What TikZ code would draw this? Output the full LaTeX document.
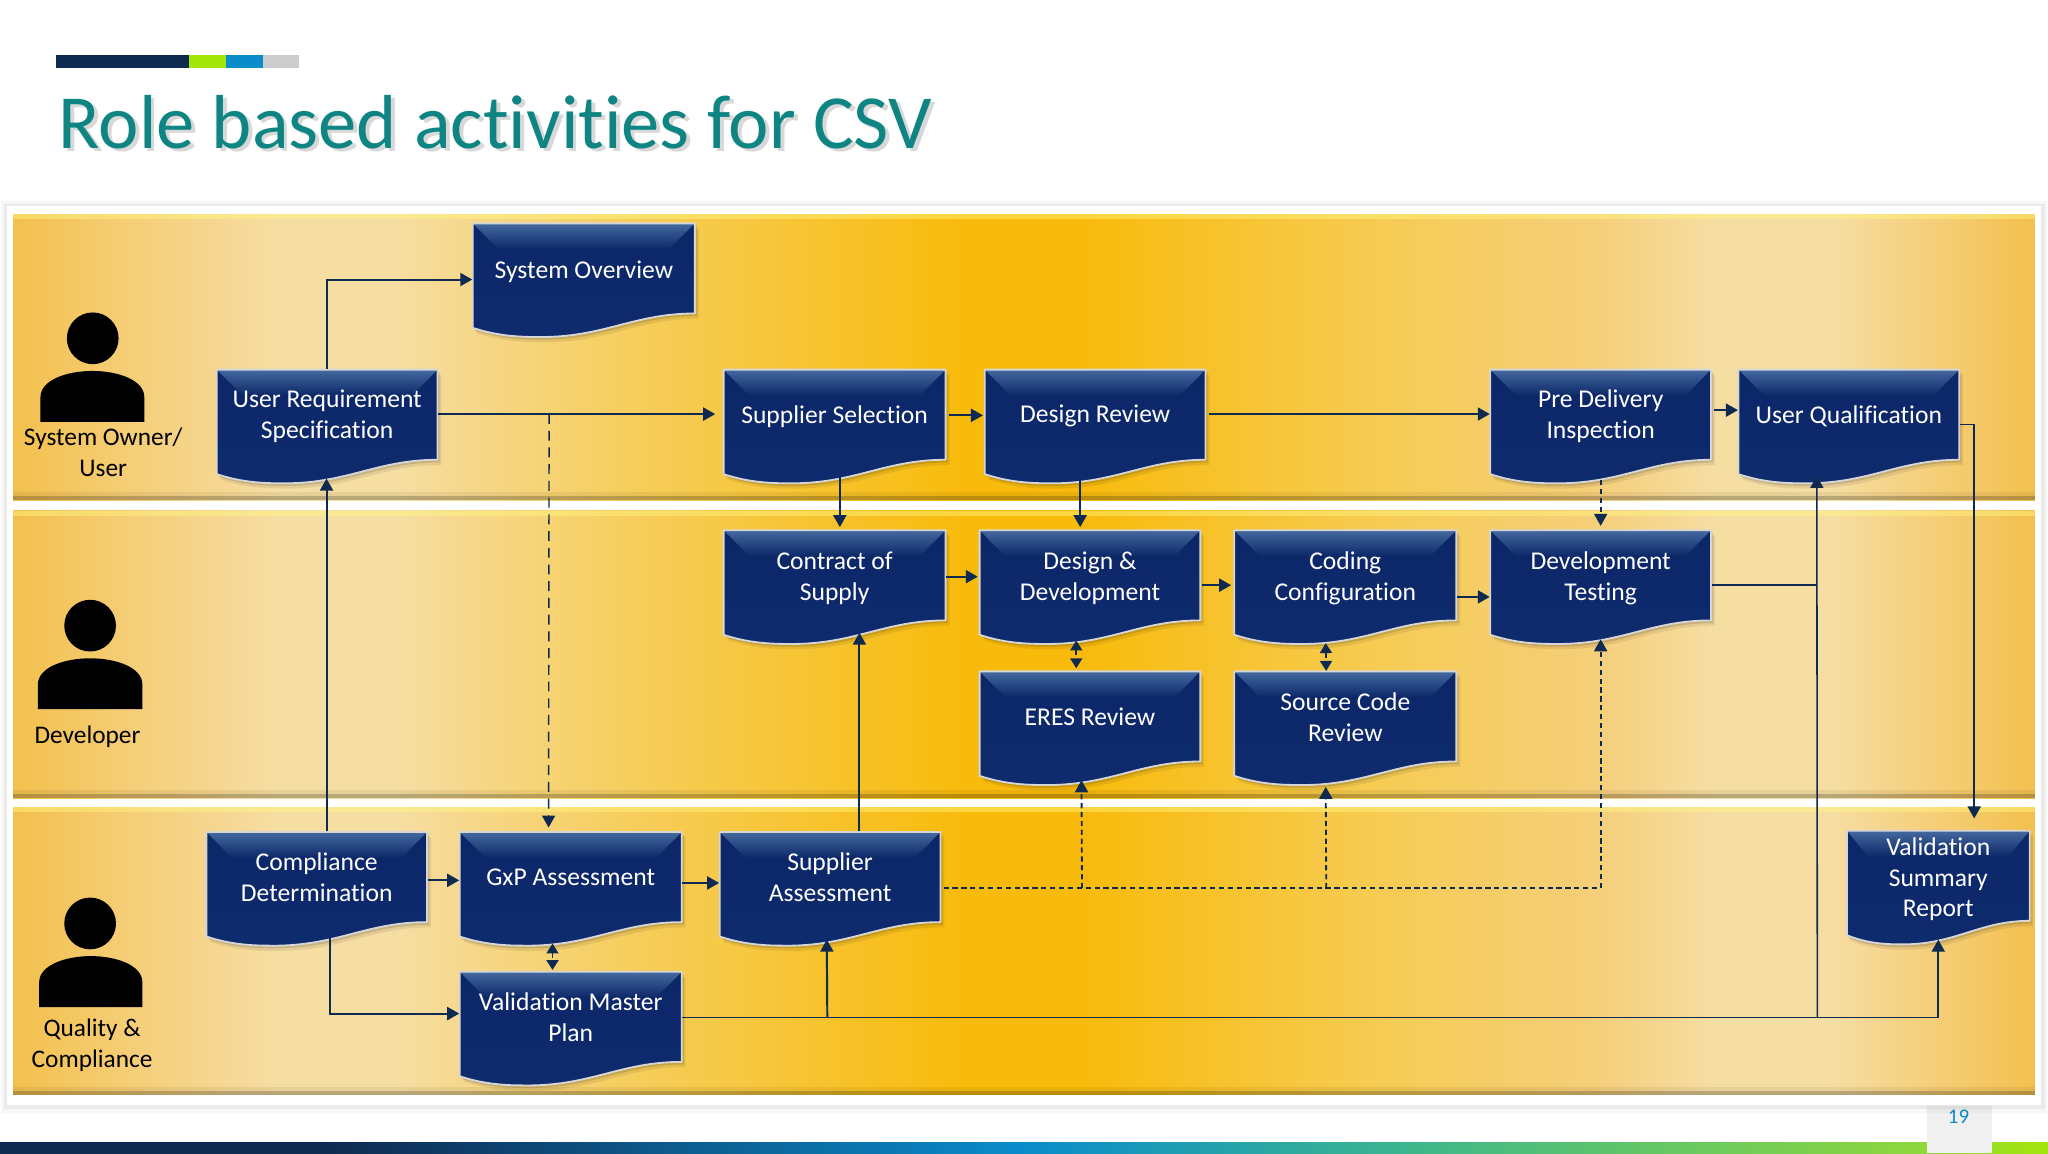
\documentclass[tikz,border=0pt]{standalone}
\usepackage{fontspec}
\setmainfont[Ligatures=NoCommon]{Carlito}
\usetikzlibrary{arrows.meta,calc}
\definecolor{navy}{HTML}{0F2A50}
\definecolor{bE}{HTML}{F3C04E}
\definecolor{bA}{HTML}{F5CE78}
\definecolor{bL}{HTML}{F6DDA2}
\definecolor{bM}{HTML}{F6CC55}
\definecolor{bD}{HTML}{F8BB0C}
\definecolor{docA}{HTML}{0C2768}
\definecolor{docB}{HTML}{0E2B6E}
\definecolor{docT}{HTML}{44699F}
\definecolor{teal1}{HTML}{0E8583}
\definecolor{blueA}{HTML}{0A8CCB}
\definecolor{greenA}{HTML}{3BB58F}
\definecolor{greenB}{HTML}{8FD83A}
\definecolor{limeA}{HTML}{A5E60A}
\pgfdeclarehorizontalshading{bandshade}{100bp}{color(0bp)=(bE); color(25bp)=(bE); color(28bp)=(bA); color(31.5bp)=(bL); color(34.5bp)=(bL); color(37.5bp)=(bL!50!bM); color(41bp)=(bM); color(48.5bp)=(bD); color(51.5bp)=(bD); color(59bp)=(bM); color(64bp)=(bA); color(67bp)=(bL); color(70bp)=(bL); color(72.5bp)=(bA); color(75bp)=(bE); color(100bp)=(bE)}
\pgfdeclarehorizontalshading{footshade}{100bp}{color(0bp)=(navy); color(25bp)=(navy); color(33bp)=(navy); color(50bp)=(blueA); color(59bp)=(greenA); color(72bp)=(greenB); color(75bp)=(limeA); color(100bp)=(limeA)}
\tikzset{
  off/.style 2 args={xshift=#1*0.5pt,yshift=-#2*0.5pt},
  arr/.style={draw=navy,line width=0.75pt,-{Triangle[length=4.6pt,width=5pt]}},
  arrthin/.style={draw=navy,line width=0.55pt},
  dsh/.style={draw=navy,line width=0.7pt,dash pattern=on 2pt off 1.4pt},
  darr/.style={dsh,-{Triangle[length=4.6pt,width=5pt]}},
  dlong/.style={draw=navy,line width=0.55pt,dash pattern=on 3.8pt off 2.6pt,-{Triangle[length=4.6pt,width=5pt]}},
  dbl/.style={dsh,{Triangle[length=3.8pt,width=4.6pt]}-{Triangle[length=3.8pt,width=4.6pt]}},
  doctext/.style={text=white,font=\fontsize{9.8}{11.8}\selectfont,align=center,inner sep=0pt},
  who/.style={text=black,font=\fontsize{9.7}{11.9}\selectfont,align=center,inner sep=0pt},
}
\newcommand\sd{\rule{0pt}{8pt}}
\newcommand\docpath{(0,0) -- (170,0) -- (170,69) .. controls (122,69) and (100,88) .. (48,87) .. controls (30,87) and (15,85) .. (0,80) -- cycle}
% name, left, top, width, text-centre offset, text
\newcommand\docbox[6]{%
  \begin{scope}[shift={(#2,#3)},xscale=#4/170]
    \fill[black,opacity=.08] [shift={(3,4)}] \docpath;
    \fill[black,opacity=.12] [shift={(1.5,2)}] \docpath;
    \begin{scope}
      \clip \docpath;
      \shade[bottom color=docB,top color=docA] (0,0) rectangle (170,90);
      \shade[top color=docT,bottom color=docA] (0,0) -- (170,0) -- (150,20) -- (20,20) -- cycle;
    \end{scope}
    \draw[color=white!84!black,line width=0.7pt,line join=round] \docpath;
  \end{scope}
  \node[doctext,minimum width=#4*0.5pt,minimum height=#5*1pt] (#1) at ($(#2,#3)+(#4/2,#5)$) {#6};
}
\newcommand\person[6]{% head x,y ; body l,r,top,bottom
  \fill[black] (#1,#2) ellipse [x radius=19.8,y radius=19.8];
  \fill[black] (#3,#6) -- (#3,#5+20) .. controls (#3,#5+7) and (#3+20,#5) .. ({(#3+#4)/2},#5) .. controls (#4-20,#5) and (#4,#5+7) .. (#4,#5+20) -- (#4,#6) -- cycle;
}
\begin{document}
\begin{tikzpicture}[x=0.5pt,y=-0.5pt]
\useasboundingbox (0,0) rectangle (1568,882.77);
\fill[white] (0,0) rectangle (1568,882.77);
% header bar
\fill[navy] (43,42) rectangle (145,52);
\fill[limeA] (145,42) rectangle (173,52);
\fill[blueA] (173,42) rectangle (201,52);
\fill[black!20] (201,42) rectangle (229,52);
% title
\node[anchor=base west,inner sep=0pt,text=black!30,opacity=.5,font=\fontsize{29.3}{36}\selectfont] at (47.5,116) {Role based activities for CSV};
\node[anchor=base west,inner sep=0pt,text=teal1,font=\fontsize{29.3}{36}\selectfont] (title) at (44.5,114) {Role based activities for CSV};
% footer
\shade[shading=footshade] (0,875) rectangle (1568,883);
\fill[black!6] (1475,847) rectangle (1525,883);
\node[inner sep=0pt,text=blueA,font=\fontsize{8}{10}\selectfont] (pg) at (1499.5,855) {19};
% frame
\fill[black,opacity=.03] (1,154) rectangle (1567,852);
\fill[black,opacity=.05] (3,156) rectangle (1566,849);
\fill[white] (5,158) rectangle (1563,846);
% bands
\foreach \t/\b in {164/383,391/611,618/838}{
  \shade[shading=bandshade] (10,\t) rectangle (1558,\b);
  \fill[yellow!50!white,opacity=.45] (10,\t) rectangle (1558,\t+4);
  \fill[black,opacity=.06] (10,\b-6) rectangle (1558,\b);
  \fill[black,opacity=.2] (10,\b-3) rectangle (1558,\b);
}
% people
\person{71}{259}{31}{110.5}{284}{323}
\person{69}{479}{29}{109}{504}{543}
\person{69}{707}{30}{109}{732}{771}
\node[who] (l1) at (79,346.5) {System Owner/\\User};
\node[who] (l2) at (67,564) {Developer};
\node[who] (l3) at (70.5,800) {Quality \&\\Compliance};
% documents
\docbox{sov}{362}{171}{170}{35.5}{\sd System Overview}
\docbox{urs}{166}{283}{169}{34.5}{\sd User Requirement\\Specification}
\docbox{sel}{554}{283}{170}{34.5}{\sd Supplier Selection}
\docbox{drv}{754}{283}{169}{34.5}{\sd Design Review}
\docbox{pdi}{1141}{283}{169}{34.5}{\sd Pre Delivery\\Inspection}
\docbox{uq}{1331}{283}{169}{34.5}{\sd User Qualification}
\docbox{cos}{554}{406}{170}{35.5}{\sd Contract of\\Supply}
\docbox{dd}{750}{406}{169}{35.5}{\sd Design \&\\Development}
\docbox{cc}{945}{406}{170}{35.5}{\sd Coding\\Configuration}
\docbox{dt}{1141}{406}{169}{35.5}{\sd Development\\Testing}
\docbox{er}{750}{514}{169}{35}{ERES Review}
\docbox{sc}{945}{514}{170}{35}{Source Code\\Review}
\docbox{cd}{158}{637}{169}{34.5}{Compliance\\Determination}
\docbox{gxp}{352}{637}{170}{34.5}{GxP Assessment}
\docbox{sa}{551}{637}{169}{34.5}{Supplier\\Assessment}
\docbox{vmp}{352}{744}{170}{34.5}{Validation Master\\Plan}
\docbox{vsr}{1414}{636}{140}{36}{\sd Validation\\Summary\\Report}
% junctions
\coordinate (j1) at ([off={85}{-0.5}]urs.east);
\coordinate (j2) at ([off={81}{6.5}]dt.east);
\coordinate (j3) at ([off={869}{0.5}]vmp.east);
\coordinate (j4) at ([off={111}{0.5}]vmp.east);
\coordinate (j6) at ([off={2}{8.5}]sa.east);
\coordinate (j5) at ([off={106}{0}]j6);
\coordinate (j7) at ([off={293}{0}]j6);
% solid connectors
\draw[arr] (urs.north) |- ([off={0}{7.5}]sov.west);
\draw[arr] ([off={0}{-0.5}]urs.east) -- ([off={-6}{-0.5}]sel.west);
\draw[arr] ([off={2}{0.5}]sel.east) -- ([off={-1}{0.5}]drv.west);
\draw[arr] ([off={2}{-0.5}]drv.east) -- ([off={0}{-0.5}]pdi.west);
\draw[arr] ([off={2}{-3.5}]pdi.east) -- ([off={0}{-3.5}]uq.west);
\draw[arr] ([off={0}{7.5}]uq.east) -| ([off={27.5}{-9}]vsr.north);
\draw[arr] ([off={4}{13}]sel.south) -- ([off={4}{-2}]cos.north);
\draw[arr] ([off={-11.5}{15}]drv.south) -- ([off={-7.5}{-2}]dd.north);
\draw[arr] (cos.east) -- ([off={-1}{0}]dd.west);
\draw[arr] ([off={1}{6.5}]dd.east) -- ([off={-2}{6.5}]cc.west);
\draw[arr] ([off={0}{15.5}]cc.east) -- ([off={0}{15.5}]dt.west);
\draw[arrthin] ([off={0}{6.5}]dt.east) -- (j2);
\draw[arr,line width=0.6pt] (j3) -- ([off={-24.5}{12}]uq.south);
\draw[arr] ([off={0}{0.5}]vmp.east) -| ([off={0}{11}]vsr.south);
\draw[arr] (j4) -- ([off={-2.5}{13}]sa.south);
\draw[arr] ([off={22.5}{0}]sa.north) -- ([off={19}{7}]cos.south);
\draw[arr] ([off={7.5}{0}]cd.north) -- ([off={-0.5}{14}]urs.south);
\draw[arr] ([off={0}{2.5}]cd.east) -- ([off={0}{2.5}]gxp.west);
\draw[arr] ([off={0}{4.5}]gxp.east) -- ([off={0}{4.5}]sa.west);
\draw[arr] ([off={10.5}{11}]cd.south) |- ([off={0}{-2.5}]vmp.west);
% dashed connectors
\draw[dlong] (j1) -- ([off={-17}{-3}]gxp.north);
\draw[darr] ([off={0}{15}]pdi.south) -- ([off={0}{-3}]dt.north);
\draw[dbl] ([off={-10.5}{13}]dd.south) -- ([off={-10.5}{-2}]er.north);
\draw[dbl] ([off={-15}{15}]cc.south) -- (sc.north -| j7);
\draw[dbl] ([off={-14}{16}]gxp.south) -- ([off={-14}{-1}]vmp.north);
\draw[darr] (j6) -| ([off={0}{12}]dt.south);
\draw[darr] (j5) -- ([off={-6.5}{13}]er.south);
\draw[darr] (j7) -- ([off={-15}{18}]sc.south);
\end{tikzpicture}
\end{document}
